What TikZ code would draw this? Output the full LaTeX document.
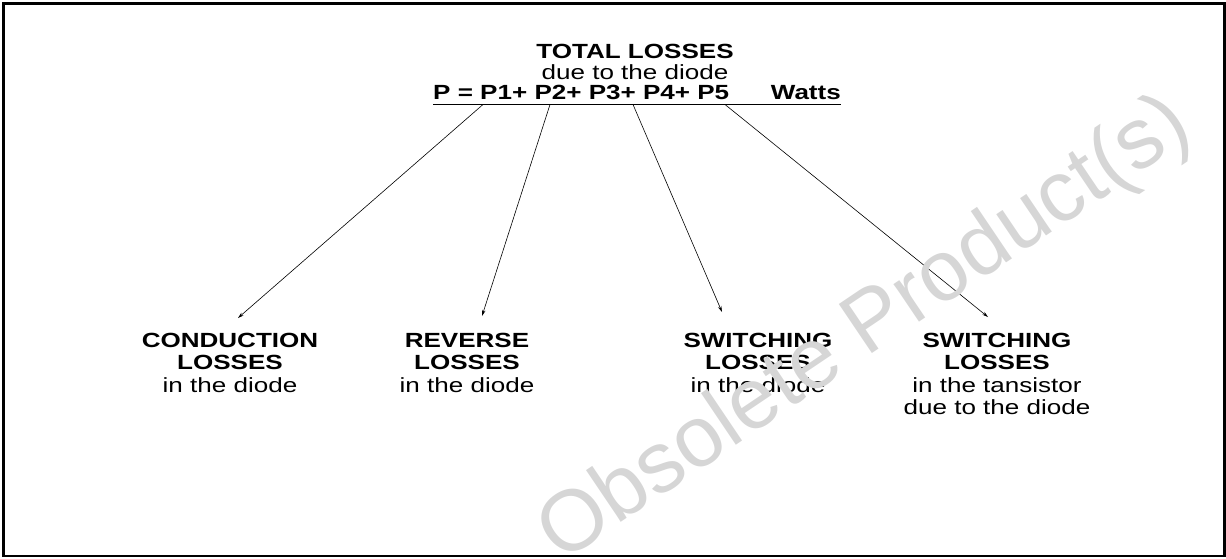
\documentclass[tikz,border=0pt]{standalone}
\usepackage{fontspec}
\setmainfont{Liberation Sans}[FakeStretch=1.27]
\newfontfamily\wmfont{Liberation Sans}
\usetikzlibrary{arrows.meta}
\begin{document}
\begin{tikzpicture}[x=1pt,y=-1pt,
  txt/.style={font=\fontsize{20.5}{22.5}\selectfont, align=center, anchor=base, inner sep=0pt},
  toptxt/.style={font=\fontsize{20.5}{21}\selectfont, align=center, anchor=base, inner sep=0pt},
  bold/.style={font=\fontsize{20.5}{21}\selectfont\bfseries, inner sep=0pt},
  arr/.style={line width=0.6pt, -{Stealth[length=6pt,width=3.5pt]}},
  wm/.style={font=\wmfont\fontsize{86}{86}\selectfont, text=black!16, rotate=34, inner sep=0pt}]
\useasboundingbox (0,0) rectangle (1226,558);
\draw[line width=2.5pt] (3.5,3.5) rectangle (1224.5,556);
% top block
\node[toptxt] (total) at (635,79) {\textbf{TOTAL LOSSES}\\due to the diode};
\node[bold, anchor=base west] (eq) at (433,99.5) {P = P1+ P2+ P3+ P4+ P5};
\node[bold, anchor=base east] (watts) at (841,99.5) {Watts};
\coordinate (ul) at (433,104.5);
\coordinate (ur) at (841,104.5);
\draw[line width=1.6pt] (ul) -- (ur);
% bottom blocks
\node[txt] (cond) at (230,392) {\textbf{CONDUCTION}\\\textbf{LOSSES}\\in the diode};
\node[txt] (rev) at (467,392) {\textbf{REVERSE}\\\textbf{LOSSES}\\in the diode};
\node[txt] (swd) at (758,392) {\textbf{SWITCHING}\\\textbf{LOSSES}\\in the diode};
\node[txt] (swt) at (997,414.5) {\textbf{SWITCHING}\\\textbf{LOSSES}\\in the tansistor\\due to the diode};
% arrows
\coordinate (s1) at (483,104.5);
\coordinate (s2) at (550,104.5);
\coordinate (s3) at (633,104.5);
\coordinate (s4) at (725,104.5);
\coordinate (e1) at (238,318);
\coordinate (e2) at (482,316);
\coordinate (e3) at (722,312);
\coordinate (e4) at (988,317);
\draw[arr] (s1) -- (e1);
\draw[arr] (s2) -- (e2);
\draw[arr] (s3) -- (e3);
\draw[arr] (s4) -- (e4);
% watermark
\node[wm] (wmark) at (866,331) {Obsolete Product(s)};
\end{tikzpicture}
\end{document}
